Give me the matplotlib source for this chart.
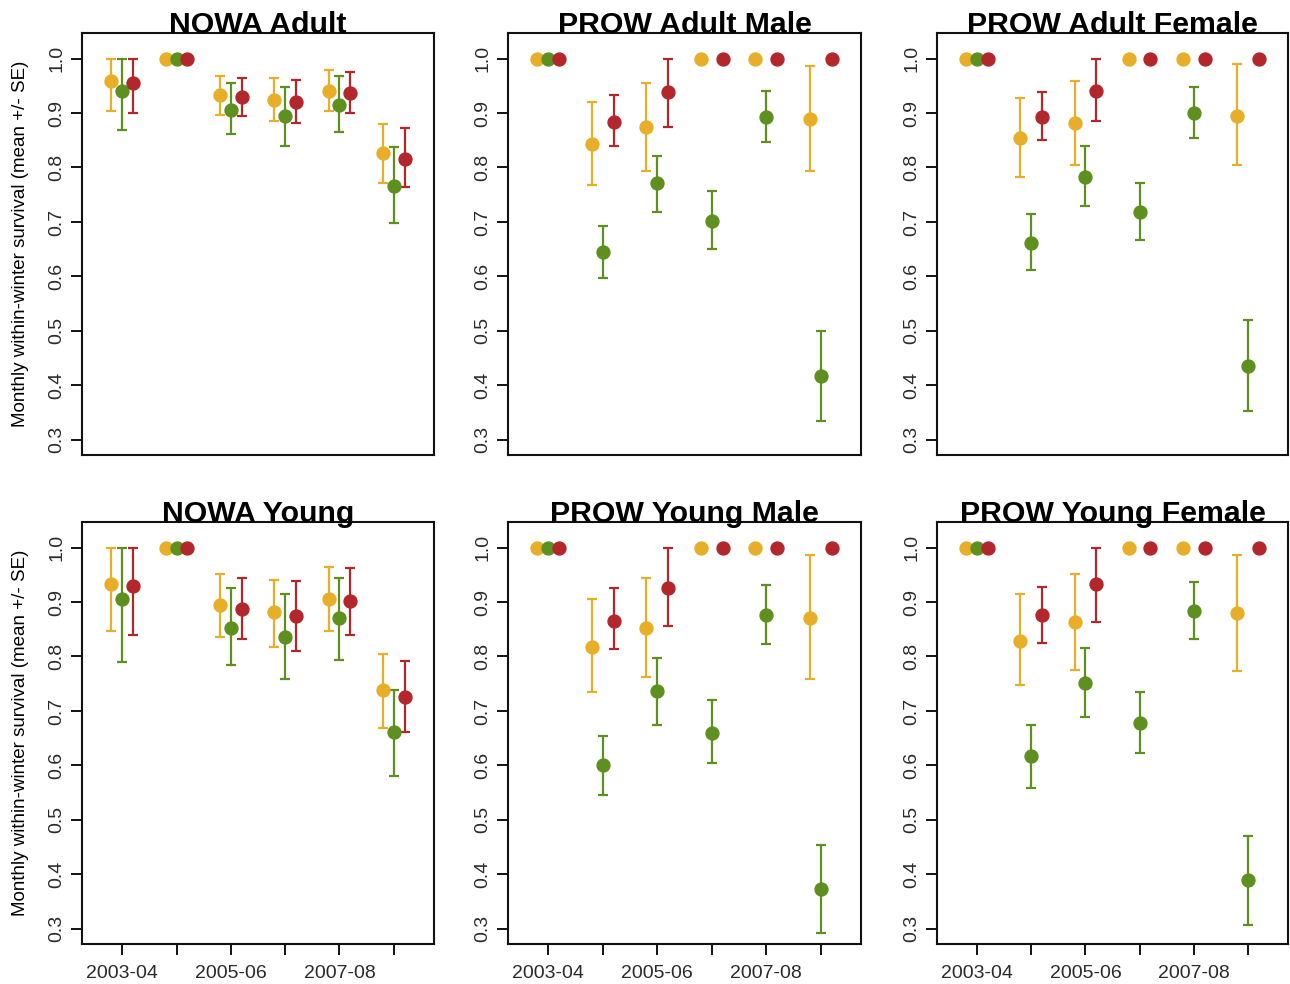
import numpy as np
import matplotlib
matplotlib.use('Agg')
import matplotlib.pyplot as plt

plt.rcParams['font.family'] = ['Liberation Sans', 'DejaVu Sans']

nan = np.nan

# Inviernos y etiquetas del eje x (R solo deja una de cada dos)
winters = ['2003-04', '2004-05', '2005-06', '2006-07', '2007-08', '2008-09']
tick_labels = ['2003-04', '', '2005-06', '', '2007-08', '']
colors = ['#E8AE28', '#5E9020', '#B3262B']
offsets = [-0.2, 0.0, 0.2]

# NOWA Adult
nowa_adult_mean = [[0.958, 1.0, 0.933, 0.924, 0.941, 0.826],
                   [0.941, 1.0, 0.906, 0.895, 0.915, 0.766],
                   [0.955, 1.0, 0.930, 0.920, 0.937, 0.815]]
nowa_adult_lo = [[0.903, nan, 0.897, 0.886, 0.903, 0.771],
                 [0.869, nan, 0.861, 0.840, 0.865, 0.698],
                 [0.900, nan, 0.894, 0.882, 0.900, 0.764]]
nowa_adult_hi = [[1.0, nan, 0.968, 0.964, 0.979, 0.879],
                 [1.0, nan, 0.955, 0.947, 0.968, 0.837],
                 [1.0, nan, 0.964, 0.961, 0.976, 0.872]]

# PROW Adult Male
prow_am_mean = [[1.0, 0.843, 0.875, 1.0, 1.0, 0.889],
                [1.0, 0.644, 0.771, 0.701, 0.892, 0.418],
                [1.0, 0.884, 0.938, 1.0, 1.0, 1.0]]
prow_am_lo = [[nan, 0.768, 0.794, nan, nan, 0.794],
              [nan, 0.597, 0.718, 0.650, 0.846, 0.335],
              [nan, 0.840, 0.875, nan, nan, nan]]
prow_am_hi = [[nan, 0.921, 0.955, nan, nan, 0.987],
              [nan, 0.693, 0.822, 0.757, 0.941, 0.499],
              [nan, 0.933, 1.0, nan, nan, nan]]

# PROW Adult Female
prow_af_mean = [[1.0, 0.854, 0.881, 1.0, 1.0, 0.895],
                [1.0, 0.662, 0.783, 0.718, 0.900, 0.436],
                [1.0, 0.892, 0.941, 1.0, 1.0, 1.0]]
prow_af_lo = [[nan, 0.782, 0.805, nan, nan, 0.805],
              [nan, 0.611, 0.730, 0.667, 0.855, 0.353],
              [nan, 0.851, 0.886, nan, nan, nan]]
prow_af_hi = [[nan, 0.927, 0.959, nan, nan, 0.990],
              [nan, 0.714, 0.840, 0.771, 0.947, 0.520],
              [nan, 0.938, 1.0, nan, nan, nan]]

# NOWA Young
nowa_young_mean = [[0.933, 1.0, 0.895, 0.881, 0.906, 0.738],
                   [0.906, 1.0, 0.853, 0.835, 0.871, 0.661],
                   [0.930, 1.0, 0.888, 0.874, 0.901, 0.726]]
nowa_young_lo = [[0.846, nan, 0.835, 0.818, 0.846, 0.669],
                 [0.790, nan, 0.784, 0.758, 0.794, 0.581],
                 [0.840, nan, 0.832, 0.811, 0.840, 0.662]]
nowa_young_hi = [[1.0, nan, 0.951, 0.941, 0.965, 0.805],
                 [1.0, nan, 0.925, 0.914, 0.945, 0.738],
                 [1.0, nan, 0.945, 0.938, 0.962, 0.791]]

# PROW Young Male
prow_ym_mean = [[1.0, 0.818, 0.852, 1.0, 1.0, 0.871],
                [1.0, 0.601, 0.737, 0.660, 0.877, 0.373],
                [1.0, 0.866, 0.926, 1.0, 1.0, 1.0]]
prow_ym_lo = [[nan, 0.734, 0.763, nan, nan, 0.758],
              [nan, 0.546, 0.675, 0.604, 0.823, 0.293],
              [nan, 0.814, 0.856, nan, nan, nan]]
prow_ym_hi = [[nan, 0.906, 0.945, nan, nan, 0.986],
              [nan, 0.654, 0.798, 0.720, 0.931, 0.453],
              [nan, 0.925, 1.0, nan, nan, nan]]

# PROW Young Female
prow_yf_mean = [[1.0, 0.829, 0.863, 1.0, 1.0, 0.880],
                [1.0, 0.618, 0.752, 0.678, 0.884, 0.390],
                [1.0, 0.877, 0.933, 1.0, 1.0, 1.0]]
prow_yf_lo = [[nan, 0.747, 0.776, nan, nan, 0.773],
              [nan, 0.559, 0.688, 0.622, 0.832, 0.307],
              [nan, 0.824, 0.863, nan, nan, nan]]
prow_yf_hi = [[nan, 0.914, 0.952, nan, nan, 0.986],
              [nan, 0.675, 0.815, 0.734, 0.937, 0.470],
              [nan, 0.927, 1.0, nan, nan, nan]]

panels = [
    ('NOWA Adult', nowa_adult_mean, nowa_adult_lo, nowa_adult_hi),
    ('PROW Adult Male', prow_am_mean, prow_am_lo, prow_am_hi),
    ('PROW Adult Female', prow_af_mean, prow_af_lo, prow_af_hi),
    ('NOWA Young', nowa_young_mean, nowa_young_lo, nowa_young_hi),
    ('PROW Young Male', prow_ym_mean, prow_ym_lo, prow_ym_hi),
    ('PROW Young Female', prow_yf_mean, prow_yf_lo, prow_yf_hi),
]

fig = plt.figure(figsize=(12.9, 9.84), dpi=100)

W, H = 1290, 984
lefts = [82, 508, 937]
widths = [352, 353, 351]
tops = [33, 522]
ax_h = 422

x = np.arange(1, len(winters) + 1)

for i, (title, mean, lo, hi) in enumerate(panels):
    row, col = divmod(i, 3)
    ax = fig.add_axes([lefts[col] / W, 1 - (tops[row] + ax_h) / H,
                       widths[col] / W, ax_h / H])
    for k in range(3):
        m = np.array(mean[k])
        l = np.array(lo[k])
        h = np.array(hi[k])
        xs = x + offsets[k]
        ok = ~np.isnan(l)
        ax.errorbar(xs[ok], m[ok], yerr=[m[ok] - l[ok], h[ok] - m[ok]],
                    fmt='none', ecolor=colors[k], elinewidth=1.6,
                    capsize=3.4, capthick=1.6, zorder=2)
        ax.plot(xs, m, 'o', color=colors[k], ms=9.3, mec=colors[k], zorder=3)

    ax.set_xlim(0.26, 6.74)
    ax.set_ylim(0.272, 1.047)
    ax.set_yticks(np.arange(0.3, 1.01, 0.1))
    ax.set_yticklabels(['%.1f' % v for v in np.arange(0.3, 1.01, 0.1)],
                       rotation=90, va='center')
    ax.tick_params(axis='y', length=8, width=1.3, pad=4, labelsize=14,
                   labelcolor='#2a2a2a')
    if row == 1:
        ax.set_xticks(x)
        ax.set_xticklabels(tick_labels)
        ax.tick_params(axis='x', length=8, width=1.3, pad=7, labelsize=14,
                       labelcolor='#2a2a2a')
    else:
        ax.set_xticks([])
    for s in ax.spines.values():
        s.set_linewidth(1.5)
        s.set_color('#111111')
    ax.text(0.5, 1.0, title, transform=ax.transAxes, ha='center',
            va='baseline', fontsize=21.8, fontweight='bold')
    if col == 0:
        ax.set_ylabel('Monthly within-winter survival (mean +/- SE)', fontsize=13.5)
        ax.yaxis.set_label_coords(-0.15, 0.5)

fig.savefig('out.png', dpi=100)
